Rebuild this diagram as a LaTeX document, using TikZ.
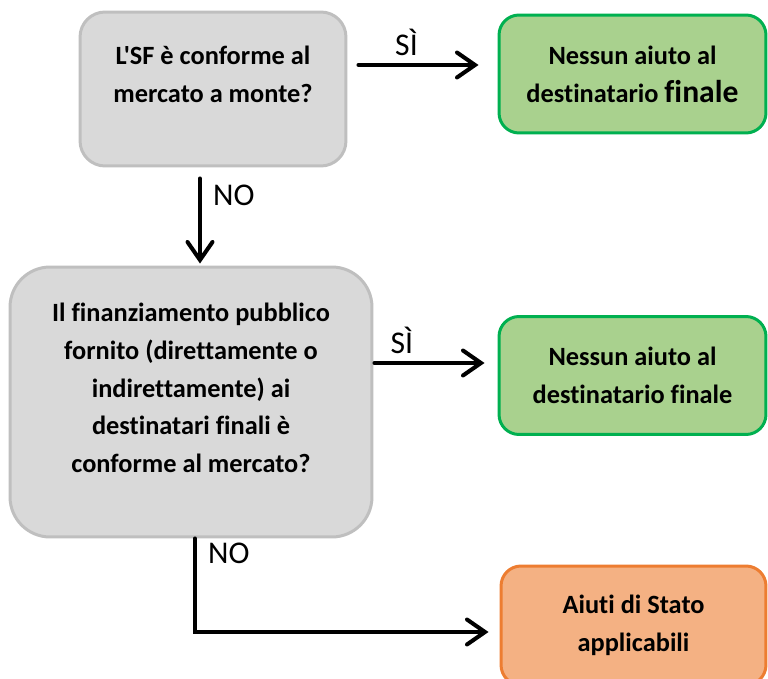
\documentclass[tikz,border=0pt]{standalone}
\usepackage{fontspec}
\setmainfont{Carlito}[Ligatures={TeXOff, NoCommon}]
\definecolor{qgray}{RGB}{217, 217, 217}
\definecolor{qedge}{RGB}{191, 191, 191}
\definecolor{okgreen}{RGB}{169, 209, 142}
\definecolor{okedge}{RGB}{0, 176, 80}
\definecolor{aidorange}{RGB}{244, 177, 131}
\definecolor{aidedge}{RGB}{237, 125, 49}
\usetikzlibrary{arrows.meta, calc}

\begin{document}
\begin{tikzpicture}[x=0.02cm, y=-0.02cm,
  question/.style={draw=qedge, fill=qgray, line width=1.7pt, align=center,
    font=\fontsize{15}{21.5}\selectfont\bfseries},
  outcome/.style={line width=1.7pt, rounded corners=0.4cm, minimum width=5.34cm,
    minimum height=2.36cm, align=center, font=\fontsize{15}{21.5}\selectfont\bfseries},
  flow/.style={line width=2.3pt, line cap=round,
    -{Straight Barb[length=3.6mm, width=5mm, line cap=round]}},
  answer/.style={font=\fontsize{18}{21}\selectfont}]
  \useasboundingbox (0, 0) rectangle (768, 679);

  % Questions
  \node[question, rounded corners=0.5cm, minimum width=5.32cm, minimum height=3.08cm]
    (q1) at (213, 89) {L'SF è conforme al\\mercato a monte?\\[-4.5pt]\mbox{}};
  \node[question, rounded corners=0.8cm, minimum width=7.24cm, minimum height=5.4cm]
    (q2) at (191, 402) {Il finanziamento pubblico\\fornito (direttamente o\\indirettamente) ai\\destinatari finali è\\conforme al mercato?\\[-5.5pt]\mbox{}};

  % Outcomes
  \node[outcome, draw=okedge, fill=okgreen] (ok1) at (632.5, 74)
    {Nessun aiuto al\\destinatario {\fontsize{18}{21.5}\selectfont finale}};
  \node[outcome, draw=okedge, fill=okgreen] (ok2) at (632.5, 375.5)
    {Nessun aiuto al\\destinatario finale};
  \node[outcome, draw=aidedge, fill=aidorange, minimum width=5.3cm, minimum height=2.38cm]
    (aid) at (633.5, 625.5) {Aiuti di Stato\\applicabili};

  % Answers
  \draw[flow] ($(q1.east)+(11,-24)$) -- ($(ok1.west)+(-19,-9)$)
    node[answer, pos=0.4, above=1pt] {SÌ};
  \draw[flow] ($(q1.south)+(-13,11)$) coordinate (n1) -- ($(n1 |- q2.north)+(0,-2)$)
    node[answer, pos=0.2, right=3pt] {NO};
  \draw[flow] ($(q2.east)+(1,-39)$) -- ($(ok2.west)+(-13,-12.5)$)
    node[answer, pos=0.25, above=1pt] {SÌ};
  \draw[flow] ($(q2.south)+(4,0)$) |- ($(aid.west)+(-11,6.5)$)
    node[answer, pos=0.08, right=3pt] {NO};
\end{tikzpicture}
\end{document}
